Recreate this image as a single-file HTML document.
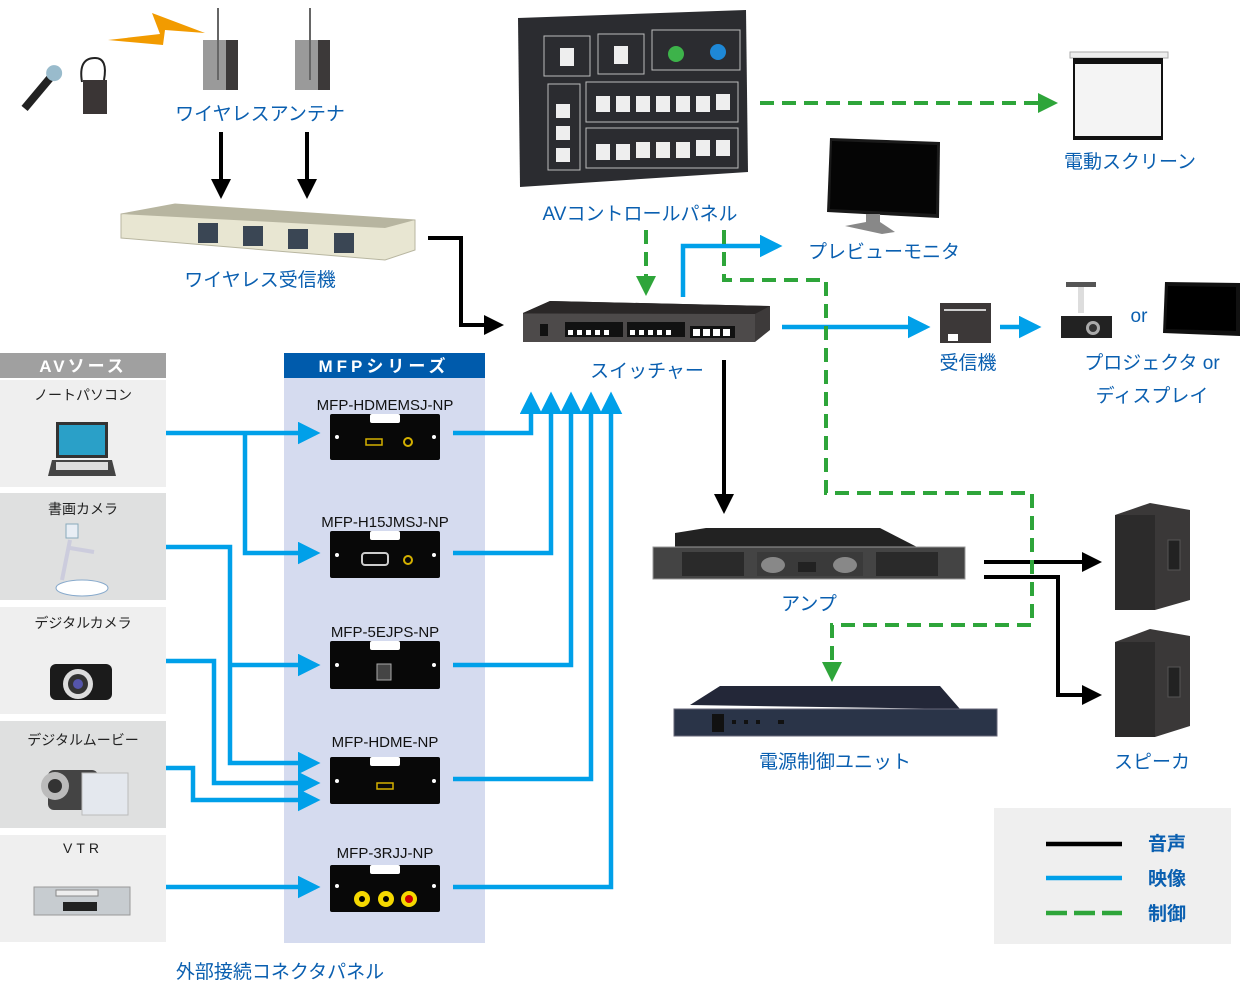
<!DOCTYPE html>
<html><head><meta charset="utf-8"><style>
html,body{margin:0;padding:0;background:#fff;}
svg{display:block;}
text{font-family:"Liberation Sans","Noto Sans CJK JP",sans-serif;}
.lb{fill:#0a5fb0;font-size:19px;}
.mf{fill:#111;font-size:15px;}
.src{fill:#222;font-size:14px;}
</style></head><body>
<svg width="1240" height="1001" viewBox="0 0 1240 1001" xmlns="http://www.w3.org/2000/svg">
<defs>
<marker id="ab" markerWidth="5" markerHeight="5" refX="4" refY="2.5" orient="auto" markerUnits="strokeWidth"><path d="M0,0 L5,2.5 L0,5 Z" fill="#00a0e9"/></marker>
<marker id="ak" markerWidth="5" markerHeight="5" refX="4" refY="2.5" orient="auto" markerUnits="strokeWidth"><path d="M0,0 L5,2.5 L0,5 Z" fill="#000"/></marker>
<marker id="ag" markerWidth="5" markerHeight="5" refX="4" refY="2.5" orient="auto" markerUnits="strokeWidth"><path d="M0,0 L5,2.5 L0,5 Z" fill="#2ea53a"/></marker>
</defs>

<!-- AV source column -->
<rect x="0" y="353" width="166" height="25" fill="#a0a0a0"/>
<text x="83" y="372" text-anchor="middle" fill="#fff" font-size="17" font-weight="bold" letter-spacing="3">AVソース</text>
<rect x="0" y="380" width="166" height="107" fill="#efefef"/>
<rect x="0" y="493" width="166" height="107" fill="#dfe0e0"/>
<rect x="0" y="607" width="166" height="107" fill="#efefef"/>
<rect x="0" y="721" width="166" height="107" fill="#dfe0e0"/>
<rect x="0" y="835" width="166" height="107" fill="#efefef"/>
<text class="src" x="83" y="400" text-anchor="middle">ノートパソコン</text>
<text class="src" x="83" y="514" text-anchor="middle">書画カメラ</text>
<text class="src" x="83" y="628" text-anchor="middle">デジタルカメラ</text>
<text class="src" x="83" y="745" text-anchor="middle">デジタルムービー</text>
<text class="src" x="83" y="853" text-anchor="middle" letter-spacing="4">VTR</text>
<!-- laptop -->
<rect x="56" y="422" width="52" height="36" fill="#333"/><rect x="59" y="425" width="46" height="30" fill="#2aa0c8"/>
<path d="M52,460 L112,460 L116,476 L48,476 Z" fill="#444"/><rect x="56" y="462" width="52" height="8" fill="#ddd"/>
<!-- doc camera -->
<rect x="66" y="524" width="12" height="14" fill="#e8eef5" stroke="#8ab" /><path d="M70,540 L62,580 M70,548 L94,552" stroke="#ccd" stroke-width="4" fill="none"/>
<ellipse cx="82" cy="588" rx="26" ry="8" fill="#fff" stroke="#8ac"/>
<!-- digital camera -->
<rect x="50" y="664" width="62" height="36" rx="6" fill="#1b1b1b"/><circle cx="78" cy="684" r="15" fill="#ddd"/><circle cx="78" cy="684" r="10" fill="#333"/><circle cx="78" cy="684" r="5" fill="#55a"/>
<!-- movie -->
<rect x="48" y="770" width="50" height="40" rx="6" fill="#444"/><circle cx="55" cy="786" r="14" fill="#bbb"/><circle cx="55" cy="786" r="7" fill="#333"/><rect x="82" y="773" width="46" height="42" fill="#e4e8ee" stroke="#bbb"/>
<!-- VTR -->
<rect x="34" y="887" width="96" height="28" fill="#c7ccd0" stroke="#999"/><rect x="56" y="890" width="42" height="6" fill="#eee" stroke="#888"/><rect x="63" y="902" width="34" height="9" fill="#222"/>

<!-- MFP column -->
<rect x="284" y="353" width="201" height="25" fill="#005bac"/>
<rect x="284" y="378" width="201" height="565" fill="#d5dbef"/>
<text x="384" y="372" text-anchor="middle" fill="#fff" font-size="17" font-weight="bold" letter-spacing="4">MFPシリーズ</text>
<text class="mf" x="385" y="410" text-anchor="middle">MFP-HDMEMSJ-NP</text>
<text class="mf" x="385" y="527" text-anchor="middle">MFP-H15JMSJ-NP</text>
<text class="mf" x="385" y="637" text-anchor="middle">MFP-5EJPS-NP</text>
<text class="mf" x="385" y="747" text-anchor="middle">MFP-HDME-NP</text>
<text class="mf" x="385" y="858" text-anchor="middle">MFP-3RJJ-NP</text>
<g fill="#080808">
<rect x="330" y="414" width="110" height="46" rx="2"/>
<rect x="330" y="531" width="110" height="47" rx="2"/>
<rect x="330" y="641" width="110" height="48" rx="2"/>
<rect x="330" y="757" width="110" height="47" rx="2"/>
<rect x="330" y="865" width="110" height="47" rx="2"/>
</g>
<g fill="#fff">
<rect x="370" y="414" width="30" height="9" rx="2"/><rect x="370" y="531" width="30" height="9" rx="2"/><rect x="370" y="641" width="30" height="9" rx="2"/><rect x="370" y="757" width="30" height="9" rx="2"/><rect x="370" y="865" width="30" height="9" rx="2"/>
<circle cx="337" cy="437" r="2"/><circle cx="434" cy="437" r="2"/><circle cx="337" cy="555" r="2"/><circle cx="434" cy="555" r="2"/><circle cx="337" cy="665" r="2"/><circle cx="434" cy="665" r="2"/><circle cx="337" cy="781" r="2"/><circle cx="434" cy="781" r="2"/><circle cx="337" cy="886" r="2"/><circle cx="434" cy="886" r="2"/>
</g>
<rect x="366" y="439" width="16" height="6" fill="none" stroke="#d4b000" stroke-width="1.5"/><circle cx="408" cy="442" r="4" fill="none" stroke="#d4b000" stroke-width="2"/>
<rect x="362" y="553" width="26" height="12" rx="3" fill="none" stroke="#ccc" stroke-width="2"/><circle cx="408" cy="560" r="4" fill="none" stroke="#d4b000" stroke-width="2"/>
<rect x="377" y="664" width="14" height="16" fill="#444" stroke="#aaa"/>
<rect x="377" y="783" width="16" height="6" fill="none" stroke="#d4b000" stroke-width="1.5"/>
<circle cx="362" cy="899" r="8" fill="#f5d800"/><circle cx="362" cy="899" r="3" fill="#000"/>
<circle cx="386" cy="899" r="8" fill="#f5d800"/><circle cx="386" cy="899" r="3" fill="#000"/>
<circle cx="409" cy="899" r="8" fill="#f5d800"/><circle cx="409" cy="899" r="4" fill="#c00"/>
<text class="lb" x="280" y="978" text-anchor="middle">外部接続コネクタパネル</text>

<!-- blue lines sources -->
<g fill="none" stroke="#00a0e9" stroke-width="4.5">
<path d="M166,433 H316" marker-end="url(#ab)"/>
<path d="M245,433 V553 H316" marker-end="url(#ab)"/>
<path d="M166,547 H230 V763 H316" marker-end="url(#ab)"/>
<path d="M230,665 H316" marker-end="url(#ab)"/>
<path d="M166,661 H214 V783 H316" marker-end="url(#ab)"/>
<path d="M166,768 H193 V800 H316" marker-end="url(#ab)"/>
<path d="M166,887 H316" marker-end="url(#ab)"/>
<path d="M453,433 H531 V396" marker-end="url(#ab)"/>
<path d="M453,553 H551 V396" marker-end="url(#ab)"/>
<path d="M453,665 H571 V396" marker-end="url(#ab)"/>
<path d="M453,779 H591 V396" marker-end="url(#ab)"/>
<path d="M453,887 H611 V396" marker-end="url(#ab)"/>
<path d="M683,297 V246 H778" marker-end="url(#ab)"/>
<path d="M782,327 H926" marker-end="url(#ab)"/>
<path d="M1000,327 H1037" marker-end="url(#ab)"/>
</g>
<!-- black -->
<g fill="none" stroke="#000" stroke-width="4">
<path d="M221,132 V195" marker-end="url(#ak)"/>
<path d="M307,132 V195" marker-end="url(#ak)"/>
<path d="M428,238 H461 V325 H500" marker-end="url(#ak)"/>
<path d="M724,360 V510" marker-end="url(#ak)"/>
<path d="M984,562 H1098" marker-end="url(#ak)"/>
<path d="M984,577 H1058 V695 H1098" marker-end="url(#ak)"/>
</g>
<!-- green dashed -->
<g fill="none" stroke="#2ea53a" stroke-width="4" stroke-dasharray="14,8">
<path d="M760,103 H1054" marker-end="url(#ag)"/>
<path d="M646,230 V292" marker-end="url(#ag)"/>
<path d="M724,230 V280 H826 V493 H1032 V625 H832 V678" marker-end="url(#ag)"/>
</g>

<!-- wireless -->
<path d="M108,40 L160,34 L152,13 L205,33 L165,30 L163,45 Z" fill="#f29b00"/>
<g transform="rotate(40 40 90)"><rect x="36" y="70" width="8" height="44" fill="#222"/><circle cx="40" cy="68" r="8" fill="#9bc"/></g>
<rect x="83" y="80" width="24" height="34" fill="#3a3535"/><path d="M82,82 Q78,58 95,58 Q108,58 104,80" fill="none" stroke="#222" stroke-width="2"/>
<rect x="203" y="40" width="35" height="50" fill="#9a9a9a"/><rect x="226" y="40" width="12" height="50" fill="#3c3939"/><line x1="218" y1="8" x2="218" y2="80" stroke="#666" stroke-width="2"/>
<rect x="295" y="40" width="35" height="50" fill="#9a9a9a"/><rect x="318" y="40" width="12" height="50" fill="#3c3939"/><line x1="310" y1="8" x2="310" y2="80" stroke="#666" stroke-width="2"/>
<text class="lb" x="260" y="120" text-anchor="middle">ワイヤレスアンテナ</text>
<path d="M121,214 L175,204 L415,220 L415,250 L385,260 L121,238 Z" fill="#e8e6d2" stroke="#b8b6a0"/>
<path d="M121,214 L175,204 L415,220 L385,228 Z" fill="#b7b5a0"/>
<g fill="#3a4654"><rect x="198" y="223" width="20" height="20"/><rect x="243" y="226" width="20" height="20"/><rect x="288" y="229" width="20" height="20"/><rect x="334" y="233" width="20" height="20"/></g>
<text class="lb" x="260" y="286" text-anchor="middle">ワイヤレス受信機</text>

<!-- AV control panel -->
<path d="M518,18 L746,10 L748,172 L520,187 Z" fill="#2b2c30"/>
<g fill="none" stroke="#bbb" stroke-width="1"><rect x="544" y="36" width="46" height="40"/><rect x="598" y="34" width="46" height="40"/><rect x="652" y="30" width="88" height="40"/><rect x="586" y="82" width="152" height="40"/><rect x="586" y="128" width="152" height="40"/><rect x="548" y="84" width="32" height="86"/></g>
<circle cx="676" cy="54" r="8" fill="#3db34a"/><circle cx="718" cy="52" r="8" fill="#1e88d6"/>
<g fill="#eee"><rect x="596" y="96" width="14" height="16"/><rect x="616" y="96" width="14" height="16"/><rect x="636" y="96" width="14" height="16"/><rect x="656" y="96" width="14" height="16"/><rect x="676" y="96" width="14" height="16"/><rect x="696" y="96" width="14" height="16"/><rect x="716" y="94" width="14" height="16"/>
<rect x="596" y="144" width="14" height="16"/><rect x="616" y="144" width="14" height="16"/><rect x="636" y="142" width="14" height="16"/><rect x="656" y="142" width="14" height="16"/><rect x="676" y="142" width="14" height="16"/><rect x="696" y="140" width="14" height="16"/><rect x="716" y="140" width="14" height="16"/>
<rect x="556" y="104" width="14" height="14"/><rect x="556" y="126" width="14" height="14"/><rect x="556" y="148" width="14" height="14"/><rect x="560" y="48" width="14" height="18"/><rect x="614" y="46" width="14" height="18"/></g>
<text class="lb" x="640" y="220" text-anchor="middle">AVコントロールパネル</text>

<!-- screen -->
<rect x="1070" y="52" width="98" height="6" fill="#eee" stroke="#aaa"/>
<rect x="1073" y="58" width="90" height="82" fill="#111"/><rect x="1075" y="64" width="86" height="72" fill="#f4f4f4"/>
<text class="lb" x="1130" y="168" text-anchor="middle">電動スクリーン</text>
<!-- monitor -->
<path d="M830,138 L940,142 L939,218 L827,212 Z" fill="#1a1a1a"/><path d="M832,141 L937,145 L936,214 L830,209 Z" fill="#050505"/>
<path d="M866,214 L880,214 L880,222 L895,232 L882,234 L845,226 L866,222 Z" fill="#888"/>
<text class="lb" x="884" y="258" text-anchor="middle">プレビューモニタ</text>

<!-- switcher -->
<path d="M523,313 L550,301 L770,306 L770,330 L755,342 L523,337 Z" fill="#3d3a3a"/>
<path d="M523,313 L550,301 L770,306 L755,314 Z" fill="#2a2727"/>
<rect x="523" y="314" width="232" height="28" fill="#4d4a4a"/>
<rect x="565" y="322" width="58" height="15" fill="#111"/><rect x="627" y="322" width="58" height="15" fill="#111"/><rect x="690" y="326" width="45" height="12" fill="#111"/>
<g fill="#fff"><rect x="568" y="330" width="5" height="5"/><rect x="577" y="330" width="5" height="5"/><rect x="586" y="330" width="5" height="5"/><rect x="595" y="330" width="5" height="5"/><rect x="604" y="330" width="5" height="5"/><rect x="630" y="330" width="5" height="5"/><rect x="639" y="330" width="5" height="5"/><rect x="648" y="330" width="5" height="5"/><rect x="657" y="330" width="5" height="5"/><rect x="666" y="330" width="5" height="5"/><rect x="693" y="329" width="7" height="7"/><rect x="703" y="329" width="7" height="7"/><rect x="713" y="329" width="7" height="7"/><rect x="723" y="329" width="7" height="7"/></g>
<rect x="540" y="324" width="8" height="12" fill="#111"/>
<text class="lb" x="647" y="377" text-anchor="middle">スイッチャー</text>

<!-- receiver -->
<rect x="940" y="303" width="51" height="40" fill="#3c3838"/><line x1="944" y1="310" x2="986" y2="310" stroke="#fff" stroke-width="1.5"/><rect x="948" y="334" width="10" height="7" fill="#fff"/>
<text class="lb" x="968" y="369" text-anchor="middle">受信機</text>
<!-- projector -->
<rect x="1066" y="282" width="30" height="5" fill="#555"/><rect x="1078" y="287" width="6" height="26" fill="#ddd"/>
<rect x="1061" y="316" width="51" height="22" fill="#222"/><circle cx="1093" cy="328" r="7" fill="#aaa"/><circle cx="1093" cy="328" r="4" fill="#333"/>
<text class="lb" x="1139" y="322" text-anchor="middle">or</text>
<path d="M1165,282 L1240,283 L1240,336 L1163,333 Z" fill="#111"/><path d="M1168,286 L1236,287 L1236,331 L1166,329 Z" fill="#000"/>
<text class="lb" x="1152" y="369" text-anchor="middle">プロジェクタ or</text>
<text class="lb" x="1152" y="402" text-anchor="middle">ディスプレイ</text>

<!-- amp -->
<path d="M675,533 L706,528 L880,528 L917,547 L675,547 Z" fill="#222"/>
<rect x="653" y="547" width="312" height="32" fill="#444" stroke="#999"/>
<rect x="682" y="552" width="62" height="24" fill="#2a2a2a"/><rect x="876" y="552" width="62" height="24" fill="#2a2a2a"/>
<rect x="757" y="552" width="106" height="24" fill="#3a3a3a"/>
<ellipse cx="773" cy="565" rx="12" ry="8" fill="#888"/><ellipse cx="845" cy="565" rx="12" ry="8" fill="#888"/><rect x="798" y="562" width="18" height="10" fill="#222"/>
<text class="lb" x="809" y="610" text-anchor="middle">アンプ</text>
<!-- power unit -->
<path d="M690,705 L720,686 L940,686 L960,709 Z" fill="#232738"/>
<rect x="674" y="709" width="323" height="27" fill="#2a3448" stroke="#667"/>
<rect x="712" y="714" width="12" height="18" fill="#111"/>
<g fill="#111"><rect x="732" y="720" width="4" height="4"/><rect x="744" y="720" width="4" height="4"/><rect x="756" y="720" width="4" height="4"/><rect x="778" y="720" width="6" height="4"/></g>
<text class="lb" x="835" y="768" text-anchor="middle">電源制御ユニット</text>
<!-- speakers -->
<g>
<path d="M1115,515 L1150,503 L1190,510 L1190,600 L1155,610 L1115,602 Z" fill="#3a3838"/>
<rect x="1115" y="515" width="40" height="95" fill="#2c2b2b"/>
<rect x="1168" y="540" width="12" height="30" fill="#222" stroke="#555"/>
</g>
<g>
<path d="M1115,642 L1150,629 L1190,636 L1190,726 L1155,737 L1115,729 Z" fill="#3a3838"/>
<rect x="1115" y="642" width="40" height="95" fill="#2c2b2b"/>
<rect x="1168" y="667" width="12" height="30" fill="#222" stroke="#555"/>
</g>
<text class="lb" x="1152" y="768" text-anchor="middle">スピーカ</text>

<!-- legend -->
<rect x="994" y="808" width="237" height="136" fill="#efefef"/>
<line x1="1046" y1="844" x2="1122" y2="844" stroke="#000" stroke-width="4.5"/>
<line x1="1046" y1="878" x2="1122" y2="878" stroke="#00a0e9" stroke-width="4.5"/>
<line x1="1046" y1="913" x2="1122" y2="913" stroke="#2ea53a" stroke-width="4.5" stroke-dasharray="21,7"/>
<text class="lb" x="1148" y="850" font-weight="bold">音声</text>
<text class="lb" x="1148" y="885" font-weight="bold">映像</text>
<text class="lb" x="1148" y="920" font-weight="bold">制御</text>
</svg>
</body></html>
